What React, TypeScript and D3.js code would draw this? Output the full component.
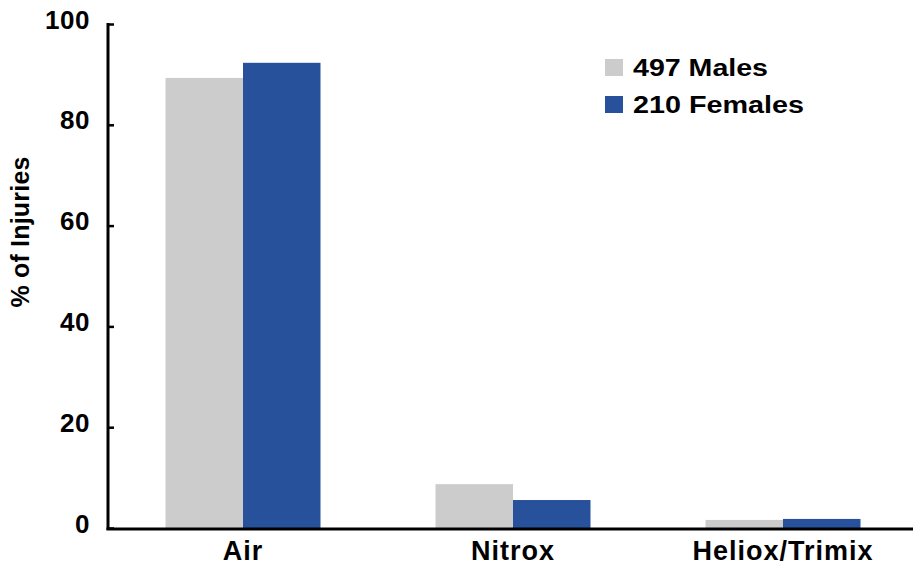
import React from "react";
import * as d3 from "d3";

const categories = ["Air", "Nitrox", "Heliox/Trimix"];
const seriesNames = ["497 Males", "210 Females"];
const males = [89.4, 8.8, 1.7];
const females = [92.4, 5.65, 1.9];
const yTicks = [0, 20, 40, 60, 80, 100];
const colors = ["#cccccc", "#27519b"];
const legendWidths = [135, 171];

const W = 913;
const H = 566;
const left = 108;
const top = 24.5;
const bottom = 528.5;
const FONT = "'Liberation Sans', Arial, Helvetica, sans-serif";

export default function App() {
  const y = d3.scaleLinear().domain([0, 100]).range([bottom, top]);
  const x0 = d3.scaleBand<string>().domain(categories).range([left, left + 810]).padding(0);
  const x1 = d3
    .scaleBand<string>()
    .domain(seriesNames)
    .range([0, x0.bandwidth()])
    .paddingInner(0)
    .paddingOuter(0.742);
  const values = [males, females];

  return (
    <svg width={W} height={H} style={{ position: "absolute", left: 0, top: 0, background: "#fff" }} fontFamily={FONT} fontWeight="bold">
      {categories.map((c, i) => (
        <g key={c}>
          {seriesNames.map((s, j) => (
            <rect
              key={s}
              x={(x0(c) as number) + (x1(s) as number)}
              y={y(values[j][i])}
              width={x1.bandwidth()}
              height={bottom - y(values[j][i])}
              fill={colors[j]}
            />
          ))}
          <text x={(x0(c) as number) + x0.bandwidth() / 2} y={560} textAnchor="middle" fontSize={27} letterSpacing={1}>
            {c}
          </text>
        </g>
      ))}
      {/* y axis */}
      <line x1={left} x2={left} y1={top - 1.5} y2={bottom + 1.5} stroke="#000" strokeWidth={3} />
      {yTicks.map((t) => (
        <g key={t}>
          <line x1={left} x2={left + 6} y1={y(t)} y2={y(t)} stroke="#000" strokeWidth={2.5} />
          <text x={90} y={y(t) + 4} textAnchor="end" fontSize={26} letterSpacing={0.5}>
            {t}
          </text>
        </g>
      ))}
      {/* x axis */}
      <line x1={left - 1.5} x2={W} y1={bottom + 0.5} y2={bottom + 0.5} stroke="#000" strokeWidth={3} />
      {/* y title */}
      <text transform={`translate(29,232) rotate(-90)`} textAnchor="middle" fontSize={25} letterSpacing={0.2}>
        % of Injuries
      </text>
      {/* legend */}
      {seriesNames.map((s, j) => (
        <g key={s}>
          <rect x={605} y={59 + j * 37} width={18} height={17} fill={colors[j]} />
          <text x={633} y={76 + j * 36.5} fontSize={23} textLength={legendWidths[j]} lengthAdjust="spacingAndGlyphs">
            {s}
          </text>
        </g>
      ))}
    </svg>
  );
}
